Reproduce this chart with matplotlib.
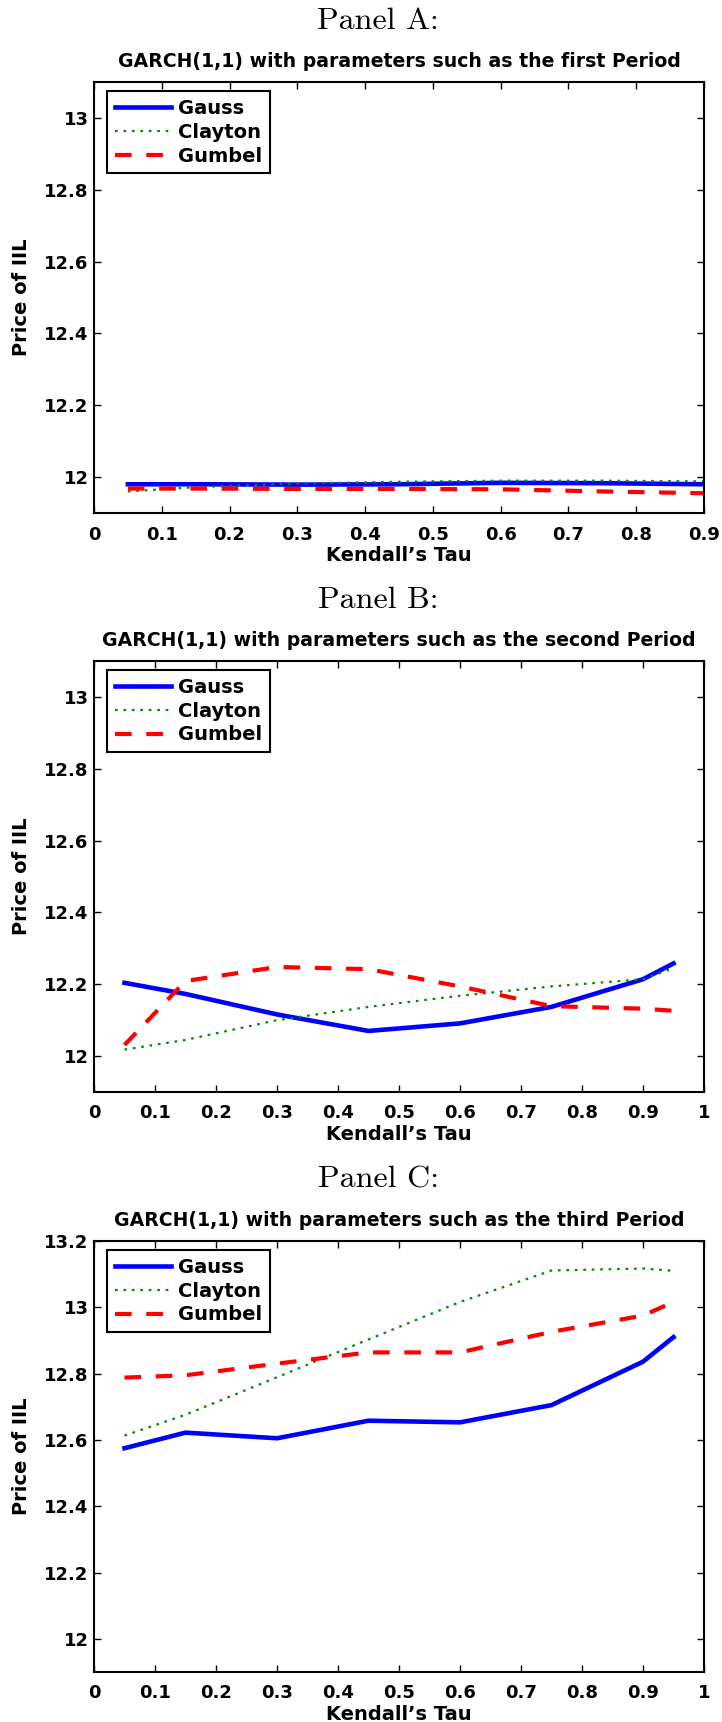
import numpy as np
import matplotlib
matplotlib.use('Agg')
import matplotlib.pyplot as plt

plt.rcParams['font.family'] = ['DejaVu Sans']
plt.rcParams['font.weight'] = 'bold'

# Kendall's tau grid used for all three periods
tau = [0.05, 0.15, 0.3, 0.45, 0.6, 0.75, 0.9, 0.95]

# Panel A: first period
gauss_a = [11.980, 11.980, 11.979, 11.980, 11.984, 11.983, 11.980, 11.979]
clayton_a = [11.960, 11.972, 11.982, 11.987, 11.990, 11.990, 11.988, 11.987]
gumbel_a = [11.968, 11.968, 11.967, 11.967, 11.966, 11.960, 11.955, 11.955]

# Panel B: second period
gauss_b = [12.204, 12.173, 12.116, 12.070, 12.091, 12.137, 12.214, 12.258]
clayton_b = [12.018, 12.045, 12.100, 12.137, 12.168, 12.194, 12.214, 12.245]
gumbel_b = [12.031, 12.209, 12.248, 12.242, 12.194, 12.139, 12.132, 12.126]

# Panel C: third period
gauss_c = [12.575, 12.622, 12.605, 12.658, 12.653, 12.705, 12.836, 12.910]
clayton_c = [12.613, 12.676, 12.789, 12.903, 13.016, 13.111, 13.117, 13.110]
gumbel_c = [12.788, 12.795, 12.830, 12.864, 12.864, 12.926, 12.975, 13.016]

panels = ['A', 'B', 'C']
periods = ['first', 'second', 'third']
xmax = [0.9, 1.0, 1.0]
ymax = [13.1, 13.1, 13.2]
yticks = [[12, 12.2, 12.4, 12.6, 12.8, 13],
          [12, 12.2, 12.4, 12.6, 12.8, 13],
          [12, 12.2, 12.4, 12.6, 12.8, 13, 13.2]]
series = [(gauss_a, clayton_a, gumbel_a),
          (gauss_b, clayton_b, gumbel_b),
          (gauss_c, clayton_c, gumbel_c)]

W, H = 722, 1722
fig = plt.figure(figsize=(W / 100, H / 100), dpi=100)

ax_left, ax_w, ax_h = 94, 610, 431
ax_tops = [82, 661, 1241]
title_y = [21, 600, 1180]

for i in range(3):
    top = ax_tops[i]
    ax = fig.add_axes([ax_left / W, 1 - (top + ax_h) / H, ax_w / W, ax_h / H])
    g, c, gu = series[i]
    ax.plot(tau, g, color='#0000ff', lw=3.3, label='Gauss')
    ax.plot(tau, c, color='#008c00', lw=1.6, dashes=(1.2, 2.6), label='Clayton')
    ax.plot(tau, gu, color='#ff0000', lw=3.0, dashes=(4, 3.5), label='Gumbel')

    ticks_x = np.arange(0, xmax[i] + 0.001, 0.1)
    ax.set_xlim(0, xmax[i])
    ax.set_ylim(11.9, ymax[i])
    ax.set_xticks(ticks_x)
    ax.set_xticklabels(['0' if t == 0 else ('1' if t > 0.99 else '%.1f' % t)
                        for t in ticks_x])
    ax.set_yticks(yticks[i])
    ax.set_yticklabels(['%g' % v for v in yticks[i]])
    ax.tick_params(direction='in', length=5, width=1, top=True, right=True,
                   labelsize=13)
    ax.tick_params(axis='y', pad=4)
    ax.tick_params(axis='x', pad=9)
    for s in ax.spines.values():
        s.set_linewidth(1.5)

    ax.set_xlabel('Kendall\u2019s Tau', fontsize=14, fontweight='bold', labelpad=2)
    ax.set_ylabel('Price of IIL', fontsize=14, fontweight='bold', labelpad=9)
    ax.set_title('GARCH(1,1) with parameters such as the %s Period' % periods[i],
                 fontsize=13.6, fontweight='bold', pad=11)

    leg = ax.legend(loc='upper left', bbox_to_anchor=(13 / ax_w, 1 - 9 / ax_h),
                    borderaxespad=0, fancybox=False, framealpha=1,
                    edgecolor='black', fontsize=14, handlelength=2.9,
                    handletextpad=0.35, labelspacing=0.25, borderpad=0.4)
    leg.get_frame().set_linewidth(1.5)

    fig.text(378 / W, 1 - title_y[i] / H, 'Panel %s:' % panels[i],
             fontfamily='cmr10', fontweight='normal', fontsize=23,
             ha='center', va='center')

fig.savefig('out.png', dpi=100)
